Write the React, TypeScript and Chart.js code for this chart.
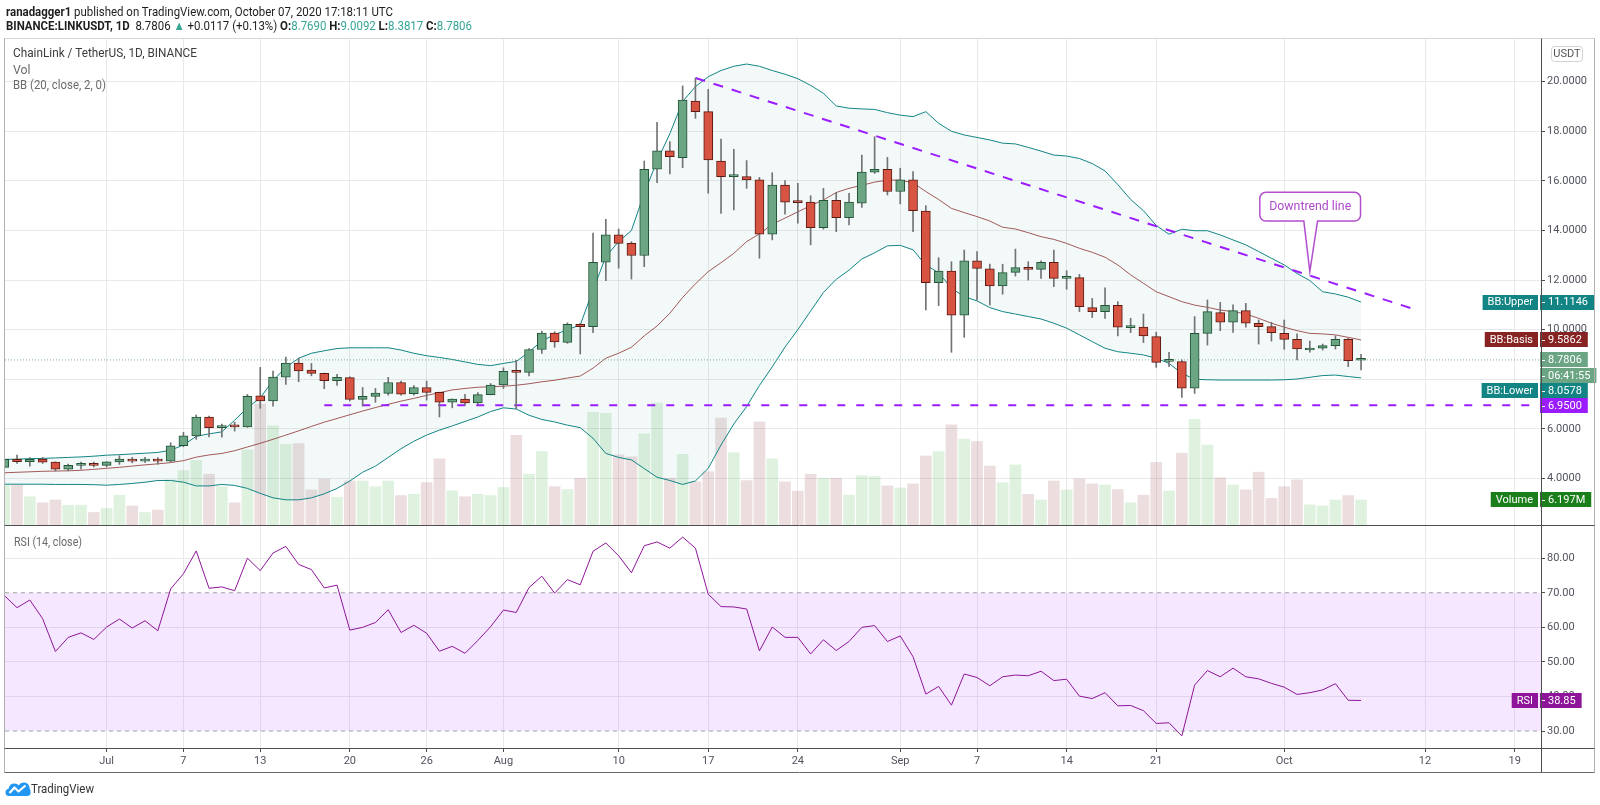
import React, { useEffect, useLayoutEffect, useRef } from 'react';
import { Chart, registerables } from 'chart.js';

Chart.register(...registerables);

const FONT = '"Liberation Sans Narrow", "Roboto", "Noto Sans", sans-serif';

// Day index of first candle, relative to 1 July 2020 (first candle = 23 June 2020)
const firstDay = -8;

const opens = [
  4.45, 4.77, 4.68, 4.78, 4.66, 4.38, 4.53, 4.61,
  4.53, 4.67, 4.78, 4.70, 4.78, 4.70, 5.32, 5.72, 6.48, 6.05,
  6.13, 6.08, 7.33, 7.13, 8.09, 8.65, 8.37, 8.24, 7.94, 8.07,
  7.19, 7.31, 7.43, 7.87, 7.42, 7.67, 7.47, 7.08, 7.20, 7.05,
  7.38, 7.77, 8.32, 8.28, 9.20, 9.86, 9.49, 10.22, 10.12, 12.72,
  13.82, 13.48, 12.99, 16.47, 17.21, 16.94, 19.22, 18.79, 16.80, 16.17,
  16.17, 16.04, 13.85, 15.83, 15.16, 15.14, 14.11, 15.22, 14.52, 15.10,
  16.35, 16.47, 15.57, 16.04, 14.78, 11.90, 12.36, 10.59, 12.78, 12.45,
  11.76, 12.31, 12.50, 12.43, 12.72, 12.07, 12.10, 10.89, 10.73, 10.98,
  10.08, 10.10, 9.72, 8.72, 8.71, 7.64, 9.85, 10.69, 10.30, 10.77,
  10.26, 10.12, 9.85, 9.61, 9.18, 9.25, 9.36, 9.61, 8.769,
];
const highs = [
  4.82, 4.94, 4.84, 4.85, 4.67, 4.58, 4.66, 4.66,
  4.68, 4.92, 4.85, 4.85, 4.84, 5.44, 5.86, 6.56, 6.52, 6.19,
  6.27, 7.39, 8.48, 8.33, 8.90, 8.85, 8.64, 8.25, 8.20, 8.10,
  7.67, 7.63, 8.08, 7.93, 7.75, 7.93, 7.48, 7.21, 7.39, 7.46,
  7.83, 8.46, 8.77, 9.24, 9.94, 9.92, 10.28, 10.26, 13.89, 14.45,
  14.06, 13.55, 16.80, 18.36, 17.58, 19.83, 20.14, 19.69, 17.68, 17.27,
  16.82, 16.14, 16.33, 16.01, 15.90, 15.40, 15.70, 15.53, 15.50, 17.04,
  17.78, 16.95, 16.51, 16.37, 15.00, 12.90, 12.74, 13.21, 13.15, 12.64,
  12.64, 13.25, 12.74, 12.78, 13.21, 12.38, 12.23, 11.26, 11.69, 11.13,
  10.46, 10.63, 9.90, 9.09, 8.78, 10.53, 11.20, 11.10, 11.00, 11.06,
  10.39, 10.30, 10.39, 9.83, 9.54, 9.42, 9.75, 9.65, 9.0092,
];
const lows = [
  4.42, 4.61, 4.50, 4.61, 4.30, 4.31, 4.38, 4.47,
  4.47, 4.57, 4.63, 4.65, 4.58, 4.68, 5.28, 5.58, 5.68, 5.67,
  5.91, 6.06, 6.83, 6.92, 7.79, 7.90, 8.14, 7.62, 7.75, 7.13,
  6.92, 7.07, 7.36, 7.36, 7.36, 7.16, 6.48, 6.85, 6.96, 7.00,
  7.37, 7.63, 6.81, 8.14, 9.04, 9.29, 9.45, 9.02, 9.88, 11.98,
  12.48, 12.04, 12.54, 15.93, 16.28, 16.53, 18.52, 15.50, 14.69, 14.83,
  15.70, 12.88, 13.62, 14.66, 14.29, 13.42, 14.05, 13.95, 14.22, 14.93,
  16.30, 15.43, 15.07, 13.95, 10.80, 10.97, 9.09, 9.69, 11.20, 11.00,
  11.43, 12.16, 12.00, 12.07, 11.73, 11.63, 10.73, 10.49, 10.45, 9.75,
  9.88, 9.48, 8.48, 8.51, 7.27, 7.43, 9.38, 9.96, 9.89, 10.10,
  9.42, 9.54, 9.21, 8.78, 9.09, 9.18, 9.22, 8.51, 8.3817,
];
const closes = [
  4.77, 4.68, 4.77, 4.66, 4.38, 4.53, 4.61, 4.53,
  4.67, 4.78, 4.70, 4.78, 4.70, 5.32, 5.72, 6.48, 6.05, 6.13,
  6.08, 7.31, 7.13, 8.09, 8.65, 8.34, 8.24, 7.94, 8.08, 7.19,
  7.31, 7.44, 7.87, 7.40, 7.67, 7.47, 7.08, 7.20, 7.05, 7.38,
  7.77, 8.32, 8.28, 9.20, 9.86, 9.51, 10.22, 10.12, 12.72, 13.82,
  13.48, 12.99, 16.47, 17.21, 16.98, 19.26, 18.79, 16.84, 16.17, 16.20,
  16.04, 13.85, 15.83, 15.14, 15.12, 14.11, 15.22, 14.52, 15.14, 16.35,
  16.47, 15.57, 16.04, 14.80, 11.90, 12.36, 10.59, 12.78, 12.47, 11.76,
  12.30, 12.50, 12.43, 12.72, 12.07, 12.14, 10.93, 10.73, 10.98, 10.10,
  10.10, 9.75, 8.68, 8.74, 7.64, 9.85, 10.73, 10.30, 10.77, 10.26,
  10.12, 9.88, 9.61, 9.22, 9.25, 9.36, 9.61, 8.75, 8.7806,
];
// Volume in millions
const volumes = [
  9.9, 9.9, 7.0, 5.5, 6.2, 4.9, 4.9, 3.1,
  4.1, 7.4, 4.7, 3.1, 3.7, 11.2, 13.5, 16.0, 12.6, 9.5,
  5.5, 18.6, 30.0, 24.6, 20.0, 20.2, 8.7, 11.4, 6.9, 10.9,
  10.9, 9.5, 10.9, 7.3, 7.6, 10.5, 16.4, 8.5, 7.0, 7.6,
  7.3, 9.3, 22.2, 12.6, 18.2, 9.5, 8.8, 11.6, 27.9, 27.7,
  17.4, 16.9, 22.6, 30.2, 11.6, 17.5, 10.7, 13.2, 26.5, 17.9,
  11.0, 25.6, 16.4, 10.7, 8.4, 12.6, 11.6, 11.6, 7.4, 12.2,
  12.0, 9.7, 9.2, 10.2, 17.1, 18.2, 24.8, 21.3, 20.7, 14.6,
  10.5, 14.9, 7.6, 6.2, 10.9, 8.7, 11.4, 10.2, 9.9, 8.8,
  5.5, 7.4, 15.5, 8.4, 17.8, 26.2, 19.8, 11.7, 9.9, 8.7,
  13.1, 6.6, 9.5, 11.2, 5.0, 4.7, 6.2, 7.3, 6.197,
];
const rsi = [
  69.2, 65.7, 67.9, 62.5, 53.0, 57.1, 58.4, 56.5,
  60.1, 62.4, 59.8, 61.9, 59.0, 71.1, 75.5, 82.1, 71.3, 71.7,
  70.6, 80.0, 76.4, 81.5, 83.4, 78.2, 76.7, 71.4, 72.2, 59.2,
  60.0, 61.4, 65.1, 58.5, 60.6, 58.3, 53.1, 54.5, 52.5, 56.2,
  60.2, 65.0, 64.3, 71.5, 74.8, 69.9, 73.8, 72.3, 82.0, 84.4,
  80.7, 75.8, 83.6, 84.7, 82.9, 86.1, 82.9, 69.6, 66.0, 65.9,
  65.3, 53.2, 60.1, 57.1, 57.1, 52.3, 56.4, 53.3, 55.9, 60.0,
  60.5, 55.9, 57.5, 51.5, 40.7, 42.9, 37.5, 46.5, 45.5, 43.1,
  45.7, 46.2, 46.0, 47.3, 44.6, 45.0, 40.1, 39.4, 41.1, 37.3,
  37.4, 35.9, 32.2, 32.4, 28.6, 43.3, 47.5, 45.7, 48.2, 45.7,
  45.1, 43.8, 42.7, 40.6, 41.1, 41.9, 43.7, 38.9, 38.85,
];
const bbUpper = [
  4.77, 4.78, 4.80, 4.81, 4.83, 4.85, 4.87, 4.90,
  4.94, 4.96, 4.99, 5.02, 5.05, 5.14, 5.35, 5.70, 5.80, 5.88,
  6.35, 6.85, 7.25, 7.95, 8.48, 8.85, 9.05, 9.15, 9.24, 9.27,
  9.27, 9.27, 9.27, 9.18, 9.05, 8.95, 8.88, 8.80, 8.70, 8.60,
  8.55, 8.64, 8.72, 9.10, 9.55, 9.80, 10.00, 10.19, 11.60, 12.95,
  13.55, 14.00, 15.50, 16.80, 17.90, 19.20, 19.80, 20.20, 20.45, 20.62,
  20.71, 20.62, 20.45, 20.30, 20.12, 19.85, 19.53, 19.02, 18.93, 18.90,
  18.88, 18.75, 18.65, 18.59, 18.79, 18.32, 18.00, 17.85, 17.75, 17.65,
  17.52, 17.49, 17.35, 17.20, 17.04, 17.00, 16.90, 16.70, 16.40, 15.85,
  15.25, 14.80, 14.20, 13.85, 14.05, 13.99, 13.99, 13.82, 13.62, 13.42,
  13.15, 12.88, 12.61, 12.27, 11.98, 11.53, 11.44, 11.31, 11.1146,
];
const bbBasis = [
  4.23, 4.25, 4.27, 4.29, 4.30, 4.31, 4.33, 4.37,
  4.41, 4.45, 4.50, 4.55, 4.59, 4.64, 4.72, 4.86, 4.95, 5.01,
  5.12, 5.27, 5.42, 5.58, 5.75, 5.92, 6.10, 6.27, 6.42, 6.57,
  6.72, 6.86, 6.99, 7.12, 7.23, 7.35, 7.46, 7.57, 7.63, 7.68,
  7.70, 7.72, 7.76, 7.82, 7.90, 7.96, 8.05, 8.13, 8.45, 8.85,
  9.05, 9.29, 9.75, 10.15, 10.66, 11.30, 11.85, 12.34, 12.70, 13.08,
  13.55, 13.86, 14.25, 14.50, 14.75, 15.00, 15.23, 15.53, 15.70, 15.82,
  15.95, 16.03, 16.03, 15.92, 15.57, 15.25, 14.89, 14.72, 14.56, 14.38,
  14.13, 14.06, 13.91, 13.75, 13.64, 13.48, 13.28, 13.12, 12.92, 12.61,
  12.21, 11.87, 11.53, 11.33, 11.13, 10.99, 10.90, 10.79, 10.73, 10.63,
  10.46, 10.26, 10.10, 9.96, 9.85, 9.83, 9.79, 9.69, 9.5862,
];
const bbLower = [
  3.77, 3.77, 3.77, 3.77, 3.76, 3.76, 3.76, 3.75,
  3.73, 3.76, 3.80, 3.85, 3.92, 3.92, 3.85, 3.70, 3.70, 3.76,
  3.72, 3.60, 3.40, 3.22, 3.14, 3.14, 3.22, 3.38, 3.60, 3.90,
  4.25, 4.50, 4.85, 5.20, 5.50, 5.75, 5.95, 6.12, 6.30, 6.48,
  6.70, 6.85, 6.80, 6.55, 6.38, 6.28, 6.15, 6.05, 5.62, 5.01,
  4.85, 4.75, 4.40, 4.05, 3.92, 3.76, 3.90, 4.41, 5.35, 6.20,
  6.90, 7.75, 8.50, 9.30, 10.00, 10.75, 11.50, 12.03, 12.40, 12.85,
  13.10, 13.38, 13.40, 13.22, 12.60, 12.30, 11.67, 11.33, 11.16, 10.89,
  10.73, 10.63, 10.53, 10.43, 10.26, 10.06, 9.79, 9.52, 9.25, 9.11,
  9.05, 8.98, 8.85, 8.64, 8.24, 8.00, 7.98, 7.97, 7.97, 7.97,
  7.97, 7.97, 7.98, 8.01, 8.08, 8.15, 8.17, 8.11, 8.0578,
];

const xTickDays = [0, 6, 12, 19, 25, 31, 40, 47, 54, 62, 68, 75, 82, 92, 103, 110];
const xTickLabels = ['Jul', '7', '13', '20', '26', 'Aug', '10', '17', '24', 'Sep', '7', '14', '21', 'Oct', '12', '19'];
const xRange = [-7.94, 112.06];
const priceTicks = [4, 6, 8, 10, 12, 14, 16, 18, 20];
const hiddenPriceTick = 8;
const priceRange = [2.125, 21.76];
const volumeMax = 120.7;
const rsiTicks = [30, 40, 50, 60, 70, 80];
const rsiRange = [25.1, 89.6];
const rsiBand = [30, 70];
const supportLevel = 6.95;
const supportStartDay = 17;
const trendStart = { x: 46, y: 20.15 };
const trendEnd = { x: 102, y: 10.85 };
const calloutDay = 94;
const countdownText = '06:41:55';

const GRID = '#e9e9e9';
const TICK = '#50535e';
const AXIS = '#4e4e4e';
const UP = '#6ba583';
const UP_BORDER = '#225437';
const DOWN = '#d75442';
const DOWN_BORDER = '#5b1a13';
const WICK = '#737375';
const BAND = '#138484';
const BASIS = '#872323';
const VIOLET = '#9b1cff';
const RSI_COLOR = '#8e1599';
const TEAL_TEXT = '#37a596';

function drawTag(ctx: any, ax: number, y: number, name: string | null, value: string, color: string) {
  ctx.font = `11px ${FONT}`;
  ctx.textBaseline = 'middle';
  const h = 15;
  const top = Math.round(y - h / 2);
  const vw = ctx.measureText(value).width;
  ctx.fillStyle = color;
  ctx.fillRect(ax - 1, top, vw + 14, h);
  ctx.fillStyle = '#ffffff';
  ctx.fillRect(ax + 1, Math.round(y), 3, 1);
  ctx.textAlign = 'left';
  ctx.fillText(value, ax + 7, y + 0.5);
  if (name) {
    const nw = ctx.measureText(name).width + 10;
    ctx.fillStyle = color;
    ctx.fillRect(ax - 3 - nw, top, nw, h);
    ctx.fillStyle = '#ffffff';
    ctx.textAlign = 'center';
    ctx.fillText(name, ax - 3 - nw / 2, y + 0.5);
  }
}

function trendAt(d: number) {
  return trendStart.y + ((trendEnd.y - trendStart.y) * (d - trendStart.x)) / (trendEnd.x - trendStart.x);
}

function FitText(props: any) {
  const ref = useRef<HTMLDivElement>(null);
  useLayoutEffect(() => {
    const el = ref.current;
    if (!el) return;
    el.style.transform = 'none';
    const w = el.getBoundingClientRect().width;
    if (w > 0) el.style.transform = `scaleX(${props.width / w})`;
  }, []);
  return (
    <div
      ref={ref}
      style={{
        position: 'absolute',
        left: props.left,
        top: props.top,
        whiteSpace: 'nowrap',
        transformOrigin: '0 0',
        fontSize: props.size || 13,
        lineHeight: '16px',
        color: props.color,
      }}
    >
      {props.children}
    </div>
  );
}

export default function App() {
  const refA = useRef<HTMLCanvasElement>(null);
  const refB = useRef<HTMLCanvasElement>(null);

  useEffect(() => {
    const n = closes.length;
    const last = n - 1;
    const xs = closes.map((_, i) => firstDay + i);
    const up = closes.map((c, i) => c >= opens[i]);
    const font = { family: FONT, size: 11 };

    const tagsA = {
      id: 'tagsA',
      afterDraw(chart: any) {
        const { ctx, chartArea, scales } = chart;
        const y = scales.y;
        const yv = scales.yv;
        const x = scales.x;
        const ax = chartArea.right;
        ctx.save();
        // Callout "Downtrend line"
        const tipX = x.getPixelForValue(calloutDay);
        const tipY = y.getPixelForValue(trendAt(calloutDay)) - 4;
        const bx0 = tipX - 50;
        const bx1 = tipX + 50.7;
        const by0 = tipY - 79.3;
        const by1 = tipY - 50.6;
        const r = 6;
        ctx.beginPath();
        ctx.moveTo(bx0 + r, by0);
        ctx.lineTo(bx1 - r, by0);
        ctx.arcTo(bx1, by0, bx1, by0 + r, r);
        ctx.lineTo(bx1, by1 - r);
        ctx.arcTo(bx1, by1, bx1 - r, by1, r);
        ctx.lineTo(tipX + 7.7, by1);
        ctx.lineTo(tipX, tipY);
        ctx.lineTo(tipX - 6, by1);
        ctx.lineTo(bx0 + r, by1);
        ctx.arcTo(bx0, by1, bx0, by1 - r, r);
        ctx.lineTo(bx0, by0 + r);
        ctx.arcTo(bx0, by0, bx0 + r, by0, r);
        ctx.closePath();
        ctx.fillStyle = '#ffffff';
        ctx.fill();
        ctx.strokeStyle = '#b24fcf';
        ctx.lineWidth = 1.5;
        ctx.stroke();
        ctx.font = `13px ${FONT}`;
        ctx.fillStyle = '#ad4bca';
        ctx.textAlign = 'center';
        ctx.textBaseline = 'middle';
        const label = 'Downtrend line';
        const lw = ctx.measureText(label).width;
        ctx.save();
        ctx.translate((bx0 + bx1) / 2, (by0 + by1) / 2 + 0.5);
        if (lw > 0) ctx.scale(82 / lw, 1);
        ctx.fillText(label, 0, 0);
        ctx.restore();

        // USDT box
        ctx.lineWidth = 1;
        ctx.strokeStyle = '#cfd2d8';
        ctx.beginPath();
        const ux = ax + 10.5, uy = chartArea.top + 8.5, uw = 31, uh = 15;
        ctx.moveTo(ux + 3, uy);
        ctx.arcTo(ux + uw, uy, ux + uw, uy + uh, 3);
        ctx.arcTo(ux + uw, uy + uh, ux, uy + uh, 3);
        ctx.arcTo(ux, uy + uh, ux, uy, 3);
        ctx.arcTo(ux, uy, ux + uw, uy, 3);
        ctx.closePath();
        ctx.stroke();
        ctx.font = `11px ${FONT}`;
        ctx.fillStyle = '#555';
        ctx.textAlign = 'center';
        ctx.fillText('USDT', ux + uw / 2, uy + uh / 2 + 0.5);

        // Price axis tags
        const pUpper = y.getPixelForValue(bbUpper[last]);
        const pBasis = y.getPixelForValue(bbBasis[last]);
        const pPrice = y.getPixelForValue(closes[last]);
        const pCount = pPrice + 16;
        const pLower = Math.max(y.getPixelForValue(bbLower[last]), pCount + 15);
        const pSupport = Math.max(y.getPixelForValue(supportLevel), pLower + 15);
        const pVol = yv.getPixelForValue(volumes[last]);
        drawTag(ctx, ax, pUpper, 'BB:Upper', bbUpper[last].toFixed(4), BAND);
        drawTag(ctx, ax, pBasis, 'BB:Basis', bbBasis[last].toFixed(4), BASIS);
        drawTag(ctx, ax, pPrice, null, closes[last].toFixed(4), UP);
        drawTag(ctx, ax, pCount, null, countdownText, UP);
        drawTag(ctx, ax, pLower, 'BB:Lower', bbLower[last].toFixed(4), BAND);
        drawTag(ctx, ax, pSupport, null, supportLevel.toFixed(4), VIOLET);
        drawTag(ctx, ax, pVol, 'Volume', volumes[last].toFixed(3) + 'M', '#1a7f1a');
        ctx.restore();
      },
    };

    const chartA = new Chart(refA.current as HTMLCanvasElement, {
      type: 'bar',
      data: {
        datasets: [
          {
            type: 'bar',
            label: 'Volume',
            data: xs.map((x, i) => ({ x, y: volumes[i] })),
            yAxisID: 'yv',
            backgroundColor: up.map((u) => (u ? 'rgba(76,175,80,0.18)' : 'rgba(160,90,90,0.2)')),
            barThickness: 11,
            grouped: false,
            order: 9,
          },
          {
            type: 'line',
            label: 'BB Upper',
            data: xs.map((x, i) => ({ x, y: bbUpper[i] })),
            yAxisID: 'y',
            borderColor: BAND,
            borderWidth: 1,
            pointRadius: 0,
            fill: '+1',
            backgroundColor: 'rgba(25,135,135,0.05)',
            order: 7,
          },
          {
            type: 'line',
            label: 'BB Lower',
            data: xs.map((x, i) => ({ x, y: bbLower[i] })),
            yAxisID: 'y',
            borderColor: BAND,
            borderWidth: 1,
            pointRadius: 0,
            fill: false,
            order: 6,
          },
          {
            type: 'line',
            label: 'BB Basis',
            data: xs.map((x, i) => ({ x, y: bbBasis[i] })),
            yAxisID: 'y',
            borderColor: 'rgba(135,35,35,0.75)',
            borderWidth: 1,
            pointRadius: 0,
            fill: false,
            order: 5,
          },
          {
            type: 'line',
            label: 'Support',
            data: [{ x: supportStartDay, y: supportLevel }, { x: xRange[1], y: supportLevel }],
            yAxisID: 'y',
            borderColor: VIOLET,
            borderWidth: 2,
            borderDash: [8, 11],
            pointRadius: 0,
            fill: false,
            order: 4,
          },
          {
            type: 'line',
            label: 'Downtrend',
            data: [trendStart, trendEnd],
            yAxisID: 'y',
            borderColor: VIOLET,
            borderWidth: 2,
            borderDash: [10, 9],
            pointRadius: 0,
            fill: false,
            order: 4,
          },
          {
            type: 'line',
            label: 'Last',
            data: [{ x: xRange[0], y: closes[last] }, { x: xRange[1], y: closes[last] }],
            yAxisID: 'y',
            borderColor: 'rgba(107,165,131,0.9)',
            borderWidth: 1,
            borderDash: [1, 2],
            pointRadius: 0,
            fill: false,
            order: 4,
          },
          {
            type: 'bar',
            label: 'Wicks',
            data: xs.map((x, i) => ({ x, y: [lows[i], highs[i]] })),
            yAxisID: 'y',
            backgroundColor: WICK,
            barThickness: 1,
            grouped: false,
            order: 2,
          },
          {
            type: 'bar',
            label: 'Bodies',
            data: xs.map((x, i) => ({ x, y: [opens[i], closes[i]] })),
            yAxisID: 'y',
            backgroundColor: up.map((u) => (u ? UP : DOWN)),
            borderColor: up.map((u) => (u ? UP_BORDER : DOWN_BORDER)),
            borderWidth: 1,
            borderSkipped: false,
            barThickness: 9,
            minBarLength: 2,
            grouped: false,
            order: 1,
          },
        ] as any,
      },
      options: {
        animation: false,
        responsive: false,
        events: [],
        layout: { padding: { left: 5, right: 6, top: 38, bottom: 280 } },
        plugins: { legend: { display: false }, tooltip: { enabled: false } },
        scales: {
          x: {
            type: 'linear',
            min: xRange[0],
            max: xRange[1],
            offset: false,
            afterBuildTicks: (s: any) => {
              s.ticks = xTickDays.map((v) => ({ value: v }));
            },
            afterFit: (s: any) => {
              s.height = 0;
            },
            ticks: { display: false },
            grid: { color: GRID, drawTicks: false, offset: false },
            border: { display: false },
          },
          y: {
            type: 'linear',
            position: 'right',
            min: priceRange[0],
            max: priceRange[1],
            afterBuildTicks: (s: any) => {
              s.ticks = priceTicks.map((v) => ({ value: v }));
            },
            afterFit: (s: any) => {
              s.width = 53;
            },
            ticks: {
              callback: (v: any) => (v === hiddenPriceTick ? '' : Number(v).toFixed(4)),
              color: TICK,
              font,
              padding: 2,
            },
            grid: { color: GRID, tickColor: AXIS, tickLength: 4 },
            border: { display: false },
          },
          yv: { type: 'linear', display: false, min: 0, max: volumeMax },
        },
      } as any,
      plugins: [tagsA],
    });

    const frameAndTags = {
      id: 'frameB',
      afterDraw(chart: any) {
        const { ctx, chartArea, scales } = chart;
        const aA = chartA.chartArea;
        const ax = chartArea.right;
        ctx.save();
        drawTag(ctx, ax, scales.y.getPixelForValue(rsi[last]), 'RSI', rsi[last].toFixed(2), RSI_COLOR);
        const L = aA.left - 0.5;
        const R = 1594.5;
        const T = aA.top + 0.5;
        const B = chartArea.bottom + 24.5;
        const line = (x1: number, y1: number, x2: number, y2: number, c: string) => {
          ctx.strokeStyle = c;
          ctx.lineWidth = 1;
          ctx.beginPath();
          ctx.moveTo(x1, y1);
          ctx.lineTo(x2, y2);
          ctx.stroke();
        };
        line(L, T, R, T, '#d6d6d6');
        line(L, T, L, B, '#b0b0b0');
        line(R, T, R, B, '#b0b0b0');
        line(L, aA.bottom + 0.5, R, aA.bottom + 0.5, AXIS);
        line(L, chartArea.bottom + 0.5, R, chartArea.bottom + 0.5, AXIS);
        line(L, B, R, B, '#6a6a6a');
        line(ax + 0.5, T, ax + 0.5, B, AXIS);
        ctx.restore();
      },
    };

    const chartB = new Chart(refB.current as HTMLCanvasElement, {
      type: 'line',
      data: {
        datasets: [
          {
            label: 'Band top',
            data: [{ x: xRange[0], y: rsiBand[1] }, { x: xRange[1], y: rsiBand[1] }],
            borderColor: '#a3a3a3',
            borderWidth: 1,
            borderDash: [4, 4],
            pointRadius: 0,
            fill: { value: rsiBand[0] },
            backgroundColor: 'rgba(153,21,255,0.1)',
            order: 3,
          },
          {
            label: 'Band bottom',
            data: [{ x: xRange[0], y: rsiBand[0] }, { x: xRange[1], y: rsiBand[0] }],
            borderColor: '#a3a3a3',
            borderWidth: 1,
            borderDash: [4, 4],
            pointRadius: 0,
            fill: false,
            order: 2,
          },
          {
            label: 'RSI',
            data: xs.map((x, i) => ({ x, y: rsi[i] })),
            borderColor: RSI_COLOR,
            borderWidth: 1,
            pointRadius: 0,
            fill: false,
            order: 1,
          },
        ] as any,
      },
      options: {
        animation: false,
        responsive: false,
        events: [],
        layout: { padding: { left: 5, right: 6, top: 525, bottom: 33 } },
        plugins: { legend: { display: false }, tooltip: { enabled: false } },
        scales: {
          x: {
            type: 'linear',
            min: xRange[0],
            max: xRange[1],
            offset: false,
            afterBuildTicks: (s: any) => {
              s.ticks = xTickDays.map((v) => ({ value: v }));
            },
            afterFit: (s: any) => {
              s.height = 24;
            },
            ticks: {
              callback: (_v: any, i: number) => xTickLabels[i],
              autoSkip: false,
              maxRotation: 0,
              color: TICK,
              font,
              padding: 3,
            },
            grid: { color: GRID, tickColor: AXIS, tickLength: 4, offset: false },
            border: { display: false },
          },
          y: {
            type: 'linear',
            position: 'right',
            min: rsiRange[0],
            max: rsiRange[1],
            afterBuildTicks: (s: any) => {
              s.ticks = rsiTicks.map((v) => ({ value: v }));
            },
            afterFit: (s: any) => {
              s.width = 53;
            },
            ticks: {
              callback: (v: any) => Number(v).toFixed(2),
              color: TICK,
              font,
              padding: 2,
            },
            grid: {
              color: (c: any) => (c.tick && rsiBand.includes(c.tick.value) ? 'rgba(0,0,0,0)' : GRID),
              tickColor: AXIS,
              tickLength: 4,
            },
            border: { display: false },
          },
        },
      } as any,
      plugins: [frameAndTags],
    });

    return () => {
      chartA.destroy();
      chartB.destroy();
    };
  }, []);

  const teal = { color: TEAL_TEXT };

  return (
    <div
      style={{
        position: 'fixed',
        left: 0,
        top: 0,
        width: 1600,
        height: 805,
        background: '#ffffff',
        overflow: 'hidden',
        fontFamily: FONT,
      }}
    >
      <canvas ref={refA} width={1600} height={805} style={{ position: 'absolute', left: 0, top: 0, width: 1600, height: 805 }} />
      <canvas ref={refB} width={1600} height={805} style={{ position: 'absolute', left: 0, top: 0, width: 1600, height: 805 }} />
      <FitText left={6} top={4} width={387} color="#1e1e1e">
        <b>ranadagger1</b> published on TradingView.com, October 07, 2020 17:18:11 UTC
      </FitText>
      <FitText left={6} top={18} width={466} color="#1e1e1e">
        <b>BINANCE:LINKUSDT, 1D</b>&nbsp; 8.7806 <span style={teal}>▲</span> +0.0117 (+0.13%) <b>O:</b>
        <span style={teal}>8.7690</span> <b>H:</b>
        <span style={teal}>9.0092</span> <b>L:</b>
        <span style={teal}>8.3817</span> <b>C:</b>
        <span style={teal}>8.7806</span>
      </FitText>
      <FitText left={13} top={45} width={184} color="#3c3c3c">
        ChainLink / TetherUS, 1D, BINANCE
      </FitText>
      <FitText left={13} top={61.5} width={17.5} color="#6b6b6b">
        Vol
      </FitText>
      <FitText left={13} top={77} width={93} color="#6b6b6b">
        BB (20, close, 2, 0)
      </FitText>
      <FitText left={14} top={533.5} width={68} color="#6b6b6b">
        RSI (14, close)
      </FitText>
      <svg style={{ position: 'absolute', left: 5, top: 780 }} width={26} height={17} viewBox="0 0 26 17">
        <path
          d="M4 16 Q0.5 16 0.5 12.5 Q0.5 9.5 3.5 8.8 Q4.5 3.5 9.5 3.5 Q12 3.5 13.8 5.3 Q15.8 1.8 19.8 2.6 Q24.5 3.6 24.6 8.6 Q25.6 10 25.6 12.5 Q25.6 16 22 16 Z"
          fill="#2196f3"
        />
        <path d="M4.5 13 L9.5 7.5 L13.5 11.5 L20.5 5.5" stroke="#ffffff" strokeWidth={2.2} fill="none" strokeLinejoin="round" />
      </svg>
      <FitText left={31} top={780.5} width={63} color="#333333">
        TradingView
      </FitText>
    </div>
  );
}
